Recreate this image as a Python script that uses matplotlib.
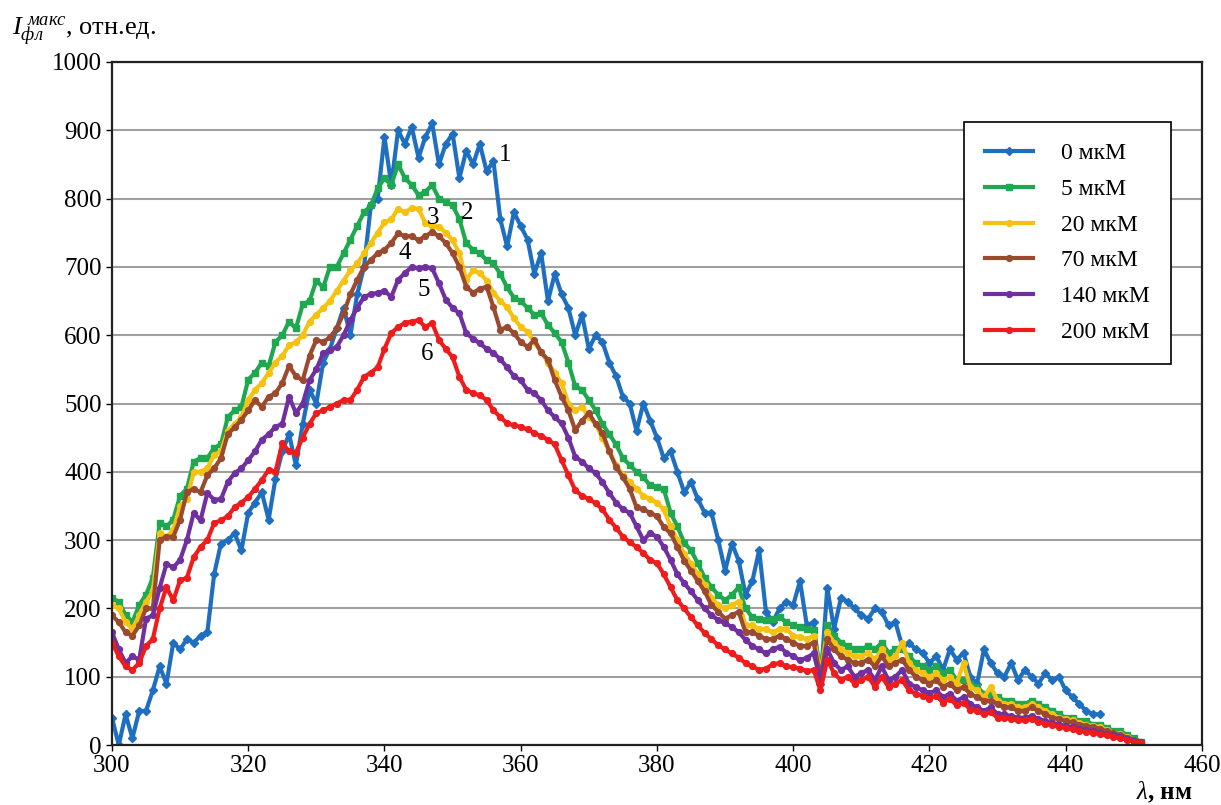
import matplotlib.pyplot as plt
import matplotlib.ticker as ticker

plt.rcParams['font.family'] = ['Liberation Serif', 'DejaVu Serif']
plt.rcParams['mathtext.fontset'] = 'custom'
plt.rcParams['mathtext.rm'] = 'Liberation Serif'
plt.rcParams['mathtext.it'] = 'Liberation Serif:italic'

# wavelength grid, nm
wl = list(range(300, 452))
wl_blue = list(range(300, 446))

# 0 мкМ
i_0 = [40, 0, 45, 10, 50, 50, 80, 115, 90, 150,
       140, 155, 150, 160, 165, 250, 295, 300, 310, 285,
       340, 355, 370, 330, 390, 430, 455, 410, 470, 520,
       500, 560, 580, 610, 640, 600, 660, 700, 790, 800,
       890, 820, 900, 880, 905, 860, 890, 910, 850, 880,
       895, 830, 870, 850, 880, 840, 855, 770, 730, 780,
       760, 740, 690, 720, 650, 690, 660, 640, 600, 630,
       580, 600, 590, 560, 540, 510, 500, 460, 500, 475,
       450, 420, 430, 400, 370, 385, 360, 340, 340, 300,
       255, 295, 270, 220, 240, 285, 195, 180, 200, 210,
       205, 240, 175, 180, 90, 230, 170, 215, 210, 200,
       190, 185, 200, 195, 175, 180, 145, 150, 140, 135,
       120, 130, 110, 140, 125, 135, 100, 90, 140, 120,
       105, 100, 120, 95, 110, 100, 90, 105, 95, 100,
       80, 70, 60, 50, 45, 45]

# 5 мкМ
i_5 = [215, 210, 190, 180, 205, 220, 245, 325, 320, 330,
       365, 375, 415, 420, 420, 435, 440, 480, 490, 495,
       535, 545, 560, 555, 590, 600, 620, 610, 645, 650,
       680, 670, 700, 700, 720, 740, 760, 780, 790, 815,
       830, 820, 850, 830, 820, 805, 810, 820, 800, 795,
       790, 770, 735, 725, 720, 710, 705, 690, 670, 655,
       650, 640, 630, 632, 615, 603, 590, 560, 525, 520,
       505, 490, 470, 455, 440, 420, 410, 400, 392, 380,
       378, 375, 340, 320, 296, 285, 266, 245, 231, 220,
       212, 220, 231, 200, 187, 185, 183, 185, 187, 180,
       175, 173, 170, 168, 110, 175, 160, 150, 145, 140,
       140, 145, 140, 150, 135, 140, 140, 130, 120, 115,
       110, 115, 105, 110, 95, 95, 90, 85, 75, 75,
       70, 65, 65, 60, 60, 65, 60, 55, 50, 45,
       40, 40, 35, 35, 30, 30, 25, 20, 20, 15,
       10, 5]

# 20 мкМ
i_20 = [205, 200, 180, 170, 190, 210, 225, 310, 305, 315,
        350, 360, 400, 400, 405, 425, 430, 460, 470, 480,
        505, 520, 530, 545, 560, 570, 585, 590, 600, 620,
        630, 640, 650, 665, 680, 695, 705, 720, 735, 750,
        765, 770, 785, 780, 786, 785, 764, 760, 759, 750,
        739, 720, 681, 695, 691, 680, 662, 650, 641, 625,
        612, 605, 590, 575, 560, 545, 530, 500, 490, 495,
        480, 470, 450, 430, 410, 395, 385, 375, 365, 360,
        355, 345, 320, 300, 280, 265, 250, 235, 215, 205,
        200, 205, 210, 175, 175, 170, 170, 165, 170, 170,
        160, 158, 155, 160, 105, 165, 150, 140, 135, 130,
        130, 135, 125, 140, 125, 130, 150, 120, 110, 105,
        100, 105, 95, 100, 90, 120, 85, 80, 70, 85,
        65, 60, 60, 55, 55, 60, 55, 50, 45, 40,
        38, 36, 32, 30, 28, 26, 22, 18, 16, 12,
        8, 5]

# 70 мкМ
i_70 = [190, 180, 165, 160, 175, 200, 200, 300, 305, 305,
        330, 370, 375, 370, 395, 405, 420, 455, 465, 476,
        490, 505, 495, 510, 515, 530, 555, 540, 534, 570,
        593, 590, 597, 610, 632, 660, 681, 700, 710, 720,
        725, 735, 749, 745, 745, 739, 745, 751, 745, 735,
        720, 700, 671, 662, 668, 671, 641, 608, 612, 603,
        590, 583, 593, 575, 564, 534, 510, 490, 461, 475,
        486, 470, 457, 430, 407, 392, 375, 348, 345, 340,
        335, 319, 310, 290, 270, 255, 240, 225, 205, 195,
        185, 190, 195, 165, 165, 160, 155, 155, 160, 155,
        150, 145, 145, 150, 100, 155, 140, 130, 125, 120,
        120, 125, 115, 130, 115, 120, 125, 110, 100, 95,
        90, 95, 85, 90, 80, 85, 75, 70, 65, 65,
        60, 55, 55, 50, 50, 55, 50, 45, 40, 38,
        35, 33, 30, 28, 26, 24, 20, 17, 15, 11,
        8, 5]

# 140 мкМ
i_140 = [165, 140, 120, 130, 125, 185, 190, 230, 265, 260,
         271, 300, 340, 329, 369, 359, 360, 385, 398, 405,
         417, 430, 447, 455, 466, 470, 510, 486, 500, 534,
         550, 574, 578, 583, 600, 622, 640, 656, 660, 662,
         665, 656, 681, 691, 700, 698, 700, 698, 676, 652,
         640, 632, 603, 595, 588, 580, 574, 565, 553, 540,
         534, 520, 515, 505, 490, 480, 471, 450, 422, 415,
         405, 398, 385, 369, 355, 345, 340, 320, 300, 310,
         305, 290, 271, 250, 237, 225, 212, 200, 190, 183,
         178, 173, 165, 154, 145, 140, 134, 140, 144, 135,
         130, 124, 128, 134, 95, 140, 120, 110, 115, 100,
         105, 110, 95, 115, 95, 100, 110, 90, 85, 80,
         76, 80, 70, 75, 65, 70, 60, 55, 50, 55,
         45, 45, 42, 40, 40, 42, 38, 35, 32, 30,
         28, 26, 24, 22, 20, 18, 16, 14, 12, 9,
         6, 4]

# 200 мкМ
i_200 = [150, 130, 115, 110, 120, 145, 155, 200, 231, 212,
         241, 245, 275, 290, 300, 325, 329, 335, 348, 355,
         363, 375, 388, 403, 400, 442, 430, 428, 450, 470,
         486, 490, 495, 500, 505, 505, 520, 539, 545, 553,
         580, 603, 612, 618, 620, 622, 612, 618, 593, 580,
         568, 539, 520, 515, 512, 505, 490, 480, 471, 468,
         466, 462, 457, 452, 447, 440, 417, 395, 373, 365,
         360, 354, 345, 330, 318, 305, 297, 290, 281, 271,
         266, 250, 231, 212, 200, 187, 175, 164, 155, 146,
         140, 134, 128, 120, 115, 110, 112, 118, 120, 115,
         114, 112, 108, 110, 80, 125, 105, 95, 100, 90,
         95, 100, 85, 100, 85, 90, 95, 80, 75, 72,
         68, 72, 62, 68, 58, 62, 52, 50, 45, 48,
         40, 40, 38, 36, 36, 38, 34, 31, 29, 27,
         25, 23, 21, 19, 18, 16, 14, 12, 10, 8,
         5, 3]

labels = ['0 мкМ', '5 мкМ', '20 мкМ', '70 мкМ', '140 мкМ', '200 мкМ']
colors = ['#1f6fc1', '#1fa84f', '#f5c211', '#9b4a30', '#7030a0', '#ee1c1c']
markers = ['D', 's', 'o', 'o', 'o', 'o']

fig = plt.figure(figsize=(12.21, 8.05), dpi=100)
ax = fig.add_axes([0.0917, 0.0745, 0.8927, 0.8485])

series = [(wl_blue, i_0), (wl, i_5), (wl, i_20), (wl, i_70), (wl, i_140), (wl, i_200)]
for (xs, ys), lab, c, m in zip(series, labels, colors, markers):
    ax.plot(xs, ys, color=c, lw=3.0, marker=m, ms=4.2, label=lab)

# curve numbers
ax.text(357.7, 864, '1', fontsize=18, ha='center', va='center')
ax.text(352.1, 779, '2', fontsize=18, ha='center', va='center')
ax.text(347.1, 772, '3', fontsize=18, ha='center', va='center')
ax.text(343.0, 720, '4', fontsize=18, ha='center', va='center')
ax.text(345.8, 666, '5', fontsize=18, ha='center', va='center')
ax.text(346.2, 572, '6', fontsize=18, ha='center', va='center')

ax.set_xlim(300, 460)
ax.set_ylim(0, 1000)
ax.xaxis.set_major_locator(ticker.MultipleLocator(20))
ax.yaxis.set_major_locator(ticker.MultipleLocator(100))
ax.grid(axis='y', color='#a0a0a0', lw=1.5)
ax.set_axisbelow(True)
ax.tick_params(labelsize=18, direction='out', length=4, width=1)
for s in ax.spines.values():
    s.set_color('#222222')
    s.set_linewidth(1.6)

fig.text(0.010, 0.962, r'$I_{фл}^{\ макс}$, отн.ед.', fontsize=19, ha='left', va='center')
fig.text(0.930, 0.016, r'$\lambda$, нм', fontsize=18, ha='left', va='center', fontweight='bold')

leg = ax.legend(loc='upper left', bbox_to_anchor=(0.771, 0.93), fontsize=17,
                frameon=True, fancybox=False, edgecolor='black', framealpha=1,
                labelspacing=0.6, handlelength=2.0, borderpad=0.9, handletextpad=1.2)
leg.get_frame().set_linewidth(1.2)

fig.savefig('out.png', dpi=100)
